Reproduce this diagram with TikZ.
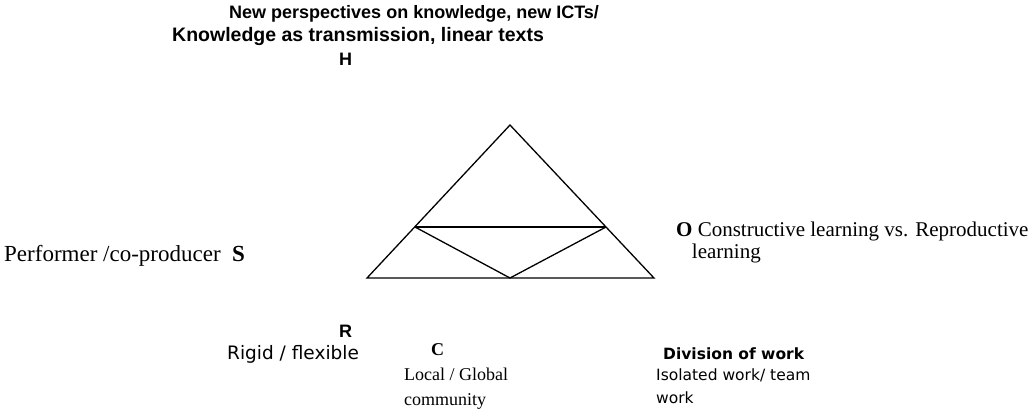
\documentclass[tikz,border=0pt]{standalone}
\usepackage{fontspec}
\setmainfont{Liberation Serif}
\newfontfamily\labelsans{DejaVu Sans}
\newfontfamily\headsans{Liberation Sans}
\begin{document}
\begin{tikzpicture}[x=1pt,y=-1pt,
    sanshead/.style={inner sep=0pt,anchor=base west,font=\labelsans\bfseries\fontsize{15.5}{26}\selectfont},
    toptext/.style={inner sep=0pt,anchor=base west,font=\headsans\bfseries\fontsize{18}{26}\selectfont},
    sanstext/.style={inner sep=0pt,anchor=base west,align=left,font=\labelsans\fontsize{15.5}{23}\selectfont},
    seriftext/.style={inner sep=0pt,anchor=base west,align=left,font=\fontsize{21}{22}\selectfont}]
    \useasboundingbox (0,0) rectangle (1032,413);
    % triangle corners
    \coordinate (top) at (510,125);
    \coordinate (bl) at (367,278);
    \coordinate (br) at (654,278);
    \coordinate (ml) at (415,227);
    \coordinate (mr) at (606,227);
    \coordinate (bm) at (510,278);

    \draw[line width=1.3pt,line join=miter] (top) -- (br) -- (bl) -- cycle;
    \draw[line width=1.3pt] (ml) -- (mr);
    \draw[line width=1.3pt] (ml) -- (bm) -- (mr);

    % labels
    \node[toptext](h1) at (229,18) {New perspectives on knowledge, new ICTs/};
    \node[toptext,font=\headsans\bfseries\fontsize{19.5}{26}\selectfont](h2) at (172,41) {Knowledge as transmission, linear texts};
    \node[toptext](h) at (339,65) {H};

    \node[seriftext,font=\fontsize{23}{22}\selectfont](s) at (4,261) {Performer /co-producer\ \ \textbf{S}};
    \node[seriftext](o) at (676,258) {\textbf{O} Constructive learning vs. Reproductive\\\ \ \ learning};

    \node[toptext](r) at (339,337) {R};
    \node[sanstext,font=\labelsans\fontsize{18.5}{22}\selectfont](rig) at (227,359) {Rigid / flexible};

    \node[seriftext,font=\fontsize{18}{25}\selectfont](c) at (431,355) {\textbf{C}};
    \node[seriftext,font=\fontsize{18}{25}\selectfont](loc) at (404,405) {Local / Global\\community};

    \node[sanshead](div) at (663,359) {Division of work};
    \node[sanstext](iso) at (656,403) {Isolated work/ team\\work};
\end{tikzpicture}
\end{document}
